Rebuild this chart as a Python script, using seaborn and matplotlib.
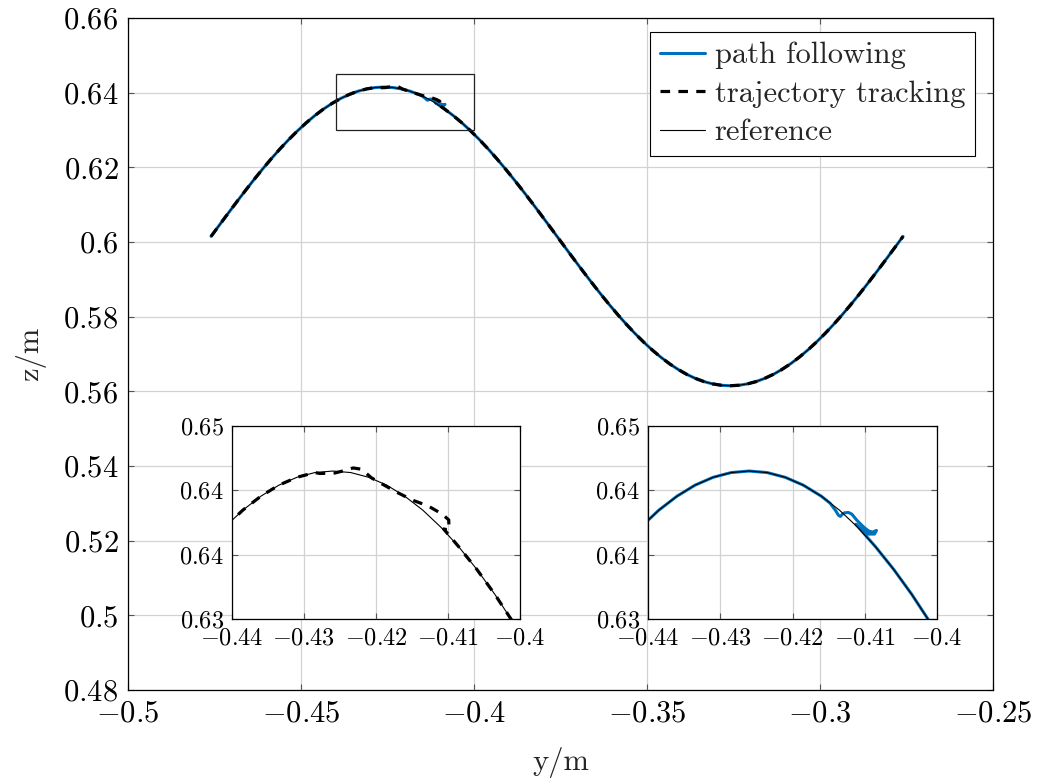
import numpy as np
import pandas as pd
import matplotlib
matplotlib.use("Agg")
import matplotlib.pyplot as plt
import seaborn as sns
from matplotlib.patches import Rectangle

# ---------------- data ----------------
ref_y = [-0.476, -0.4735, -0.471, -0.4685, -0.466, -0.4635, -0.461, -0.4585, -0.456, -0.4535,
         -0.451, -0.4485, -0.446, -0.4435, -0.441, -0.4385, -0.436, -0.4335, -0.431, -0.4285,
         -0.426, -0.4235, -0.421, -0.4185, -0.416, -0.4135, -0.411, -0.4085, -0.406, -0.4035,
         -0.401, -0.3985, -0.396, -0.3935, -0.391, -0.3885, -0.386, -0.3835, -0.381, -0.3785,
         -0.376, -0.3735, -0.371, -0.3685, -0.366, -0.3635, -0.361, -0.3585, -0.356, -0.3535,
         -0.351, -0.3485, -0.346, -0.3435, -0.341, -0.3385, -0.336, -0.3335, -0.331, -0.3285,
         -0.326, -0.3235, -0.321, -0.3185, -0.316, -0.3135, -0.311, -0.3085, -0.306, -0.3035,
         -0.301, -0.2985, -0.296, -0.2935, -0.291, -0.2885, -0.286, -0.2835, -0.281, -0.2785,
         -0.276]
ref_z = [0.60150, 0.60464, 0.60776, 0.61084, 0.61386, 0.61681, 0.61966, 0.62240, 0.62501, 0.62748,
         0.62978, 0.63192, 0.63386, 0.63561, 0.63714, 0.63846, 0.63954, 0.64040, 0.64101, 0.64138,
         0.64150, 0.64138, 0.64101, 0.64040, 0.63954, 0.63846, 0.63714, 0.63561, 0.63386, 0.63192,
         0.62978, 0.62748, 0.62501, 0.62240, 0.61966, 0.61681, 0.61386, 0.61084, 0.60776, 0.60464,
         0.60150, 0.59836, 0.59524, 0.59216, 0.58914, 0.58619, 0.58334, 0.58060, 0.57799, 0.57552,
         0.57322, 0.57108, 0.56914, 0.56739, 0.56586, 0.56454, 0.56346, 0.56260, 0.56199, 0.56162,
         0.56150, 0.56162, 0.56199, 0.56260, 0.56346, 0.56454, 0.56586, 0.56739, 0.56914, 0.57108,
         0.57322, 0.57552, 0.57799, 0.58060, 0.58334, 0.58619, 0.58914, 0.59216, 0.59524, 0.59836,
         0.60150]

# path following: deviation segment (wiggle near y = -0.413 ... -0.408)
path_dev_y = [-0.4148, -0.41401, -0.41365, -0.41337, -0.41309, -0.41282, -0.41226, -0.41179,
              -0.41110, -0.41018, -0.40949, -0.40893, -0.40838, -0.40865, -0.40949, -0.41040,
              -0.41124]
path_dev_z = [0.63900, 0.63841, 0.63807, 0.63797, 0.63815, 0.63825, 0.63828, 0.63815,
              0.63768, 0.63716, 0.63685, 0.63675, 0.63688, 0.63660, 0.63660, 0.63696,
              0.63737]
path_dev_range = [-0.4145, -0.4105]

# trajectory tracking: deviation segment (near the crest)
traj_dev_y = [-0.4278, -0.42571, -0.42456, -0.42318, -0.42201, -0.42063, -0.41901, -0.41693,
              -0.41485, -0.41277, -0.41080, -0.40990, -0.40985, -0.41060]
traj_dev_z = [0.64131, 0.64135, 0.64151, 0.64174, 0.64164, 0.64097, 0.64045, 0.63980,
              0.63922, 0.63879, 0.63815, 0.63770, 0.63690, 0.63700]
traj_dev_range = [-0.428, -0.4105]

labels = ["path following", "trajectory tracking", "reference"]

main_xticks = [-0.5, -0.45, -0.4, -0.35, -0.3, -0.25]
main_xticklabels = ["-0.5", "-0.45", "-0.4", "-0.35", "-0.3", "-0.25"]
main_yticks = [0.48, 0.5, 0.52, 0.54, 0.56, 0.58, 0.6, 0.62, 0.64, 0.66]
main_yticklabels = ["0.48", "0.5", "0.52", "0.54", "0.56", "0.58", "0.6", "0.62", "0.64", "0.66"]

zoom_y = [-0.44, -0.4]
zoom_z = [0.63, 0.645]
inset_xticks = [-0.44, -0.43, -0.42, -0.41, -0.4]
inset_xticklabels = ["-0.44", "-0.43", "-0.42", "-0.41", "-0.4"]
inset_yticks = [0.63, 0.635, 0.64, 0.645]
inset_yticklabels = ["0.63", "0.64", "0.64", "0.65"]

# ---------------- build series ----------------
ref_y_a = np.array(ref_y)
ref_z_a = np.array(ref_z)
ref_df = pd.DataFrame({"y": ref_y_a, "z": ref_z_a})

m1 = ref_y_a < path_dev_range[0]
m2 = ref_y_a > path_dev_range[1]
path_df = pd.DataFrame({
    "y": np.concatenate([ref_y_a[m1], path_dev_y, ref_y_a[m2]]),
    "z": np.concatenate([ref_z_a[m1], path_dev_z, ref_z_a[m2]]),
})
t1 = ref_y_a < traj_dev_range[0]
t2 = ref_y_a > traj_dev_range[1]
traj_df = pd.DataFrame({
    "y": np.concatenate([ref_y_a[t1], traj_dev_y, ref_y_a[t2]]),
    "z": np.concatenate([ref_z_a[t1], traj_dev_z, ref_z_a[t2]]),
})

# ---------------- style ----------------
sns.set_theme(style="white")
plt.rcParams.update({
    "font.family": "cmr10",
    "mathtext.fontset": "cm",
    "axes.unicode_minus": True,
    "axes.formatter.use_mathtext": True,
})

BLUE = "#0072BD"
GRID = "#d2d2d2"
DASH = (0, (3, 2.6))

fig = plt.figure(figsize=(10.37, 7.83), dpi=100)
ax = fig.add_axes([128 / 1037, 1 - 690 / 783, 865 / 1037, 672 / 783])


def style_axes(a, fs, pad):
    a.set_facecolor("white")
    a.grid(True, color=GRID, linewidth=0.9)
    a.set_axisbelow(True)
    for s in a.spines.values():
        s.set_color("black")
        s.set_linewidth(0.9)
        s.set_visible(True)
    a.tick_params(direction="in", length=4, width=0.8, color="#555555",
                  labelsize=fs, pad=pad, top=True, right=True,
                  bottom=True, left=True, labelcolor="black")


def mt(lbls):
    return ["$" + s + "$" for s in lbls]


# main plot
sns.lineplot(data=path_df, x="y", y="z", sort=False, estimator=None, ax=ax,
             color=BLUE, linewidth=2.2, label=labels[0])
sns.lineplot(data=traj_df, x="y", y="z", sort=False, estimator=None, ax=ax,
             color="black", linewidth=2.3, linestyle=DASH, label=labels[1])
sns.lineplot(data=ref_df, x="y", y="z", sort=False, estimator=None, ax=ax,
             color="black", linewidth=0.8, label=labels[2])

ax.add_patch(Rectangle((zoom_y[0], zoom_z[0]), zoom_y[1] - zoom_y[0], zoom_z[1] - zoom_z[0],
                       fill=False, edgecolor="#222222", linewidth=0.9, zorder=5))

ax.set_xlim(-0.5, -0.25)
ax.set_ylim(0.48, 0.66)
ax.set_xticks(main_xticks, mt(main_xticklabels))
ax.set_yticks(main_yticks, mt(main_yticklabels))
style_axes(ax, 22, 7)
ax.set_xlabel("y/m", fontsize=22, labelpad=14)
ax.set_ylabel("z/m", fontsize=22, labelpad=12)

leg = ax.legend(loc="upper right", bbox_to_anchor=(0.979, 0.979), borderaxespad=0,
                fontsize=22, frameon=True, fancybox=False, edgecolor="black",
                framealpha=1, handlelength=1.5, handletextpad=0.3,
                labelspacing=0.36, borderpad=0.32)
leg.get_frame().set_linewidth(0.8)

# insets
inset_h = 193 / 783
inset_b = 1 - 619 / 783
axL = fig.add_axes([232 / 1037, inset_b, 288 / 1037, inset_h])
axR = fig.add_axes([648 / 1037, inset_b, 289 / 1037, inset_h])

sns.lineplot(data=traj_df, x="y", y="z", sort=False, estimator=None, ax=axL,
             color="black", linewidth=2.3, linestyle=DASH, legend=False)
sns.lineplot(data=ref_df, x="y", y="z", sort=False, estimator=None, ax=axL,
             color="black", linewidth=0.8, legend=False)

sns.lineplot(data=path_df, x="y", y="z", sort=False, estimator=None, ax=axR,
             color=BLUE, linewidth=2.2, legend=False)
sns.lineplot(data=ref_df, x="y", y="z", sort=False, estimator=None, ax=axR,
             color="black", linewidth=0.8, legend=False)

for a in (axL, axR):
    a.set_xlim(zoom_y[0], zoom_y[1])
    a.set_ylim(zoom_z[0], zoom_z[1])
    a.set_xticks(inset_xticks, mt(inset_xticklabels))
    a.set_yticks(inset_yticks, mt(inset_yticklabels))
    style_axes(a, 17.5, 6)
    a.set_xlabel("")
    a.set_ylabel("")
    if a.get_legend() is not None:
        a.get_legend().remove()

fig.savefig("out.png", dpi=100)
